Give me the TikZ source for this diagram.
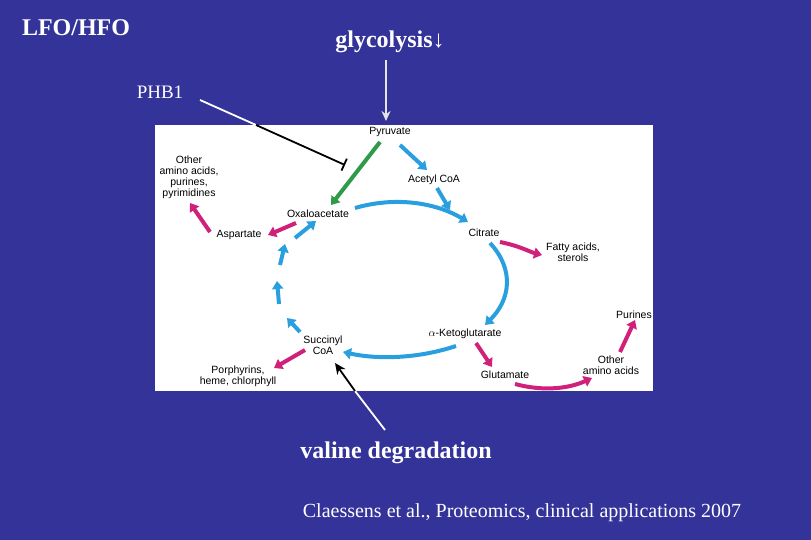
\documentclass[tikz,border=0pt]{standalone}
\usepackage{fontspec}
\setmainfont{Liberation Serif}
\newfontfamily\panelfont{Liberation Sans}
\usetikzlibrary{arrows.meta}
\definecolor{bg}{HTML}{333399}
\definecolor{cyc}{HTML}{2A9FE0}
\definecolor{mag}{HTML}{D0207A}
\definecolor{grn}{HTML}{2E9A4A}
\begin{document}
\begin{tikzpicture}[x=1pt,y=-1pt,
  lab/.style={font=\panelfont\fontsize{10.5}{11}\selectfont,align=center,inner sep=0pt},
  slide/.style={white,inner sep=0pt},
  ba/.style={cyc,line width=4pt,-{Triangle[length=8pt,width=11pt]}},
  ma/.style={mag,line width=4pt,-{Triangle[length=8pt,width=11pt]}},
  ga/.style={grn,line width=4pt,-{Triangle[length=8pt,width=11pt]}},
  blk/.style={line width=1.8pt}]
\fill[bg] (0,0) rectangle (811,540);
\useasboundingbox (0,0) rectangle (811,540);
\fill[white] (155,125) rectangle (653,391);
\node[lab] (pyr) at (390,132) {Pyruvate};
\node[lab] (ac) at (434,180) {Acetyl CoA};
\node[lab] (oaa) at (318,214) {Oxaloacetate};
\node[lab] (cit) at (484,233) {Citrate};
\node[lab] (asp) at (239,235) {Aspartate};
\node[lab] (oaa2) at (189,177) {Other\\amino acids,\\purines,\\pyrimidines};
\node[lab] (fat) at (573,252) {Fatty acids,\\sterols};
\node[lab] (akg) at (465,334) {$\alpha$-Ketoglutarate};
\node[lab] (suc) at (323,345) {Succinyl\\CoA};
\node[lab] (por) at (238,376) {Porphyrins,\\heme, chlorphyll};
\node[lab] (glu) at (505,375) {Glutamate};
\node[lab] (oaa3) at (611,365) {Other\\amino acids};
\node[lab] (pur) at (634,315) {Purines};
% cycle
\draw[ba] (400,145) -- (427,170);
\draw[ba] (437,188) -- (450,210);
\draw[ba] (355,208) .. controls (400,195) and (440,205) .. (468,222);
\draw[ba] (490,243) .. controls (515,270) and (510,300) .. (485,325);
\draw[ba] (456,346) .. controls (420,358) and (380,360) .. (343,352);
\draw[ba] (300,332) -- (287,318);
\draw[ba] (279,304) -- (277,281);
\draw[ba] (280,265) -- (285,244);
\draw[ba] (295,238) -- (316,221);
\draw[ga] (380,142) -- (331,205);
% magenta
\draw[ma] (296,223) -- (268,235);
\draw[ma] (210,232) -- (190,203);
\draw[ma] (500,242) .. controls (520,246) and (530,252) .. (542,255);
\draw[ma] (305,350) -- (274,368);
\draw[ma] (476,343) -- (492,367);
\draw[ma] (515,384) .. controls (545,392) and (570,388) .. (592,378);
\draw[ma] (620,352) -- (635,320);
% slide annotations
\node[slide,font=\bfseries\fontsize{24}{28}\selectfont] (lfo) at (76,28) {LFO/HFO};
\node[slide,font=\bfseries\fontsize{24}{28}\selectfont] (gly) at (390,42) {glycolysis↓};
\node[slide,font=\fontsize{19}{22}\selectfont] (phb) at (160,92) {PHB1};
\node[slide,font=\bfseries\fontsize{24}{28}\selectfont] (val) at (396,453) {valine degradation};
\node[slide,font=\fontsize{20}{24}\selectfont] (ref) at (522,513) {Claessens et al., Proteomics, clinical applications 2007};
\coordinate (phbs) at (200,100);
\coordinate (phbm) at (256,125);
\coordinate (inh) at (345,165);
\coordinate (glys) at (386,60);
\coordinate (glyend) at (386,121);
\coordinate (vals) at (385,430);
\coordinate (valm) at (355,391);
\coordinate (valend) at (335,363);
\draw[blk,white] (phbs) -- (phbm);
\draw[blk,black,-{Bar[width=13pt]}] (phbm) -- (inh);
\draw[blk,white!90!black,-{Stealth[length=10pt,width=9pt]}] (glys) -- (glyend);
\draw[blk,white] (vals) -- (valm);
\draw[blk,black,-{Stealth[length=11pt,width=10pt]}] (valm) -- (valend);
\end{tikzpicture}
\end{document}
